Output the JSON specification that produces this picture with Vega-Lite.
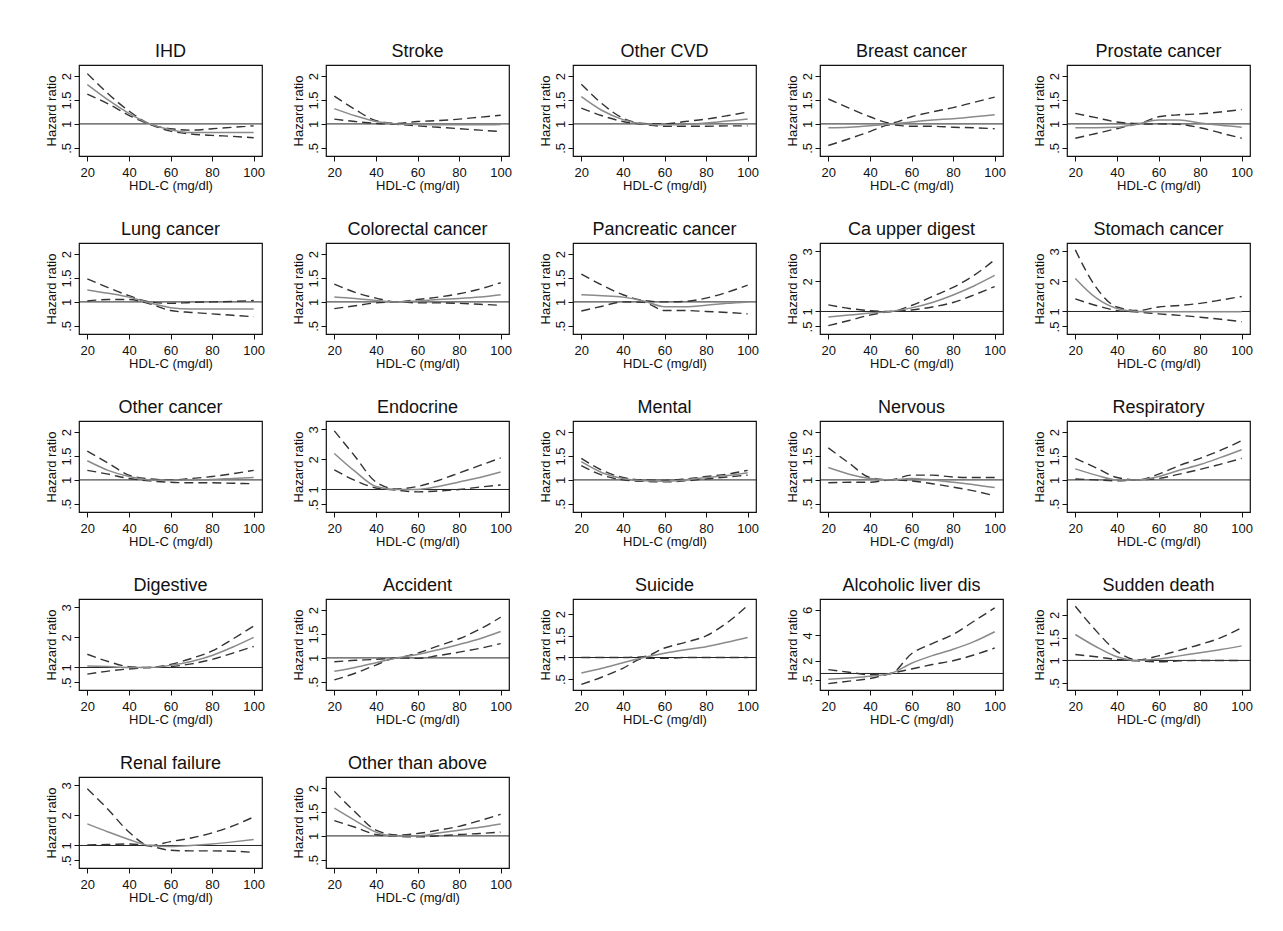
{
"$schema":"https://vega.github.io/schema/vega-lite/v6.json",
"background":"white",
"autosize":{"type":"pad"},
"padding":{"left":44,"top":42,"right":5,"bottom":5},
"config":{
"font":"Liberation Sans",
"view":{"stroke":"#111","strokeWidth":1.2},
"title":{"fontSize":18,"fontWeight":"normal","color":"#111","offset":0,"baseline":"alphabetic"},
"axis":{"grid":false,"domain":false,"tickColor":"#111","tickSize":5,"labelFontSize":13,"labelColor":"#111","titleFontSize":13,"titleFontWeight":"normal","titleColor":"#111","labelOverlap":false},
"axisX":{"labelPadding":5,"titlePadding":0,"tickCount":10},
"axisY":{"labelAngle":270,"labelAlign":"center","labelBaseline":"alphabetic","labelPadding":4,"titlePadding":2,"tickCount":20,"format":"~g","labelExpr":"datum.value == 0.5 ? '.5' : datum.label"}
},
"datasets":{"d":[
{"p":"IHD","x":20,"lo":1.62,"est":1.82,"hi":2.05},{"p":"IHD","x":30,"lo":1.42,"est":1.5,"hi":1.63},{"p":"IHD","x":40,"lo":1.18,"est":1.22,"hi":1.27},{"p":"IHD","x":50,"lo":0.99,"est":1.0,"hi":1.0},{"p":"IHD","x":60,"lo":0.85,"est":0.88,"hi":0.9},{"p":"IHD","x":70,"lo":0.79,"est":0.82,"hi":0.87},{"p":"IHD","x":80,"lo":0.76,"est":0.82,"hi":0.9},{"p":"IHD","x":90,"lo":0.74,"est":0.82,"hi":0.93},{"p":"IHD","x":100,"lo":0.71,"est":0.82,"hi":0.96},
{"p":"Stroke","x":20,"lo":1.1,"est":1.32,"hi":1.58},{"p":"Stroke","x":30,"lo":1.05,"est":1.17,"hi":1.3},{"p":"Stroke","x":40,"lo":1.01,"est":1.05,"hi":1.07},{"p":"Stroke","x":50,"lo":0.99,"est":1.0,"hi":1.01},{"p":"Stroke","x":60,"lo":0.96,"est":0.99,"hi":1.05},{"p":"Stroke","x":70,"lo":0.93,"est":0.98,"hi":1.07},{"p":"Stroke","x":80,"lo":0.9,"est":0.98,"hi":1.1},{"p":"Stroke","x":90,"lo":0.87,"est":0.98,"hi":1.14},{"p":"Stroke","x":100,"lo":0.84,"est":0.99,"hi":1.18},
{"p":"Other CVD","x":20,"lo":1.33,"est":1.57,"hi":1.83},{"p":"Other CVD","x":30,"lo":1.17,"est":1.28,"hi":1.42},{"p":"Other CVD","x":40,"lo":1.05,"est":1.09,"hi":1.12},{"p":"Other CVD","x":50,"lo":0.99,"est":1.0,"hi":1.01},{"p":"Other CVD","x":60,"lo":0.95,"est":0.98,"hi":1.0},{"p":"Other CVD","x":70,"lo":0.95,"est":0.99,"hi":1.05},{"p":"Other CVD","x":80,"lo":0.95,"est":1.02,"hi":1.1},{"p":"Other CVD","x":90,"lo":0.96,"est":1.06,"hi":1.17},{"p":"Other CVD","x":100,"lo":0.96,"est":1.1,"hi":1.25},
{"p":"Breast cancer","x":20,"lo":0.55,"est":0.92,"hi":1.52},{"p":"Breast cancer","x":30,"lo":0.69,"est":0.93,"hi":1.33},{"p":"Breast cancer","x":40,"lo":0.84,"est":0.96,"hi":1.15},{"p":"Breast cancer","x":50,"lo":0.98,"est":1.0,"hi":1.02},{"p":"Breast cancer","x":60,"lo":0.95,"est":1.04,"hi":1.15},{"p":"Breast cancer","x":70,"lo":0.95,"est":1.08,"hi":1.25},{"p":"Breast cancer","x":80,"lo":0.93,"est":1.11,"hi":1.34},{"p":"Breast cancer","x":90,"lo":0.92,"est":1.15,"hi":1.45},{"p":"Breast cancer","x":100,"lo":0.9,"est":1.19,"hi":1.56},
{"p":"Prostate cancer","x":20,"lo":0.7,"est":0.92,"hi":1.22},{"p":"Prostate cancer","x":30,"lo":0.8,"est":0.92,"hi":1.13},{"p":"Prostate cancer","x":40,"lo":0.9,"est":0.93,"hi":1.04},{"p":"Prostate cancer","x":50,"lo":0.99,"est":1.0,"hi":1.01},{"p":"Prostate cancer","x":60,"lo":1.0,"est":1.08,"hi":1.15},{"p":"Prostate cancer","x":70,"lo":0.99,"est":1.08,"hi":1.19},{"p":"Prostate cancer","x":80,"lo":0.92,"est":1.02,"hi":1.21},{"p":"Prostate cancer","x":90,"lo":0.81,"est":0.97,"hi":1.25},{"p":"Prostate cancer","x":100,"lo":0.7,"est":0.93,"hi":1.3},
{"p":"Lung cancer","x":20,"lo":1.02,"est":1.25,"hi":1.48},{"p":"Lung cancer","x":30,"lo":1.05,"est":1.18,"hi":1.3},{"p":"Lung cancer","x":40,"lo":1.05,"est":1.1,"hi":1.13},{"p":"Lung cancer","x":50,"lo":0.96,"est":0.98,"hi":1.0},{"p":"Lung cancer","x":60,"lo":0.82,"est":0.88,"hi":0.97},{"p":"Lung cancer","x":70,"lo":0.78,"est":0.85,"hi":0.99},{"p":"Lung cancer","x":80,"lo":0.75,"est":0.85,"hi":1.0},{"p":"Lung cancer","x":90,"lo":0.72,"est":0.85,"hi":1.01},{"p":"Lung cancer","x":100,"lo":0.69,"est":0.85,"hi":1.03},
{"p":"Colorectal cancer","x":20,"lo":0.86,"est":1.1,"hi":1.37},{"p":"Colorectal cancer","x":30,"lo":0.92,"est":1.07,"hi":1.2},{"p":"Colorectal cancer","x":40,"lo":0.98,"est":1.03,"hi":1.08},{"p":"Colorectal cancer","x":50,"lo":1.0,"est":1.0,"hi":1.0},{"p":"Colorectal cancer","x":60,"lo":0.98,"est":1.02,"hi":1.05},{"p":"Colorectal cancer","x":70,"lo":0.98,"est":1.05,"hi":1.1},{"p":"Colorectal cancer","x":80,"lo":0.97,"est":1.07,"hi":1.17},{"p":"Colorectal cancer","x":90,"lo":0.95,"est":1.1,"hi":1.27},{"p":"Colorectal cancer","x":100,"lo":0.93,"est":1.15,"hi":1.4},
{"p":"Pancreatic cancer","x":20,"lo":0.81,"est":1.15,"hi":1.58},{"p":"Pancreatic cancer","x":30,"lo":0.91,"est":1.13,"hi":1.35},{"p":"Pancreatic cancer","x":40,"lo":1.0,"est":1.1,"hi":1.15},{"p":"Pancreatic cancer","x":50,"lo":0.99,"est":1.02,"hi":1.03},{"p":"Pancreatic cancer","x":60,"lo":0.82,"est":0.9,"hi":1.0},{"p":"Pancreatic cancer","x":70,"lo":0.82,"est":0.9,"hi":1.01},{"p":"Pancreatic cancer","x":80,"lo":0.8,"est":0.93,"hi":1.08},{"p":"Pancreatic cancer","x":90,"lo":0.78,"est":0.97,"hi":1.2},{"p":"Pancreatic cancer","x":100,"lo":0.75,"est":1.0,"hi":1.35},
{"p":"Ca upper digest","x":20,"lo":0.53,"est":0.82,"hi":1.22},{"p":"Ca upper digest","x":30,"lo":0.7,"est":0.88,"hi":1.1},{"p":"Ca upper digest","x":40,"lo":0.88,"est":0.95,"hi":1.03},{"p":"Ca upper digest","x":50,"lo":1.0,"est":1.0,"hi":1.0},{"p":"Ca upper digest","x":60,"lo":1.05,"est":1.12,"hi":1.2},{"p":"Ca upper digest","x":70,"lo":1.15,"est":1.3,"hi":1.5},{"p":"Ca upper digest","x":80,"lo":1.3,"est":1.55,"hi":1.8},{"p":"Ca upper digest","x":90,"lo":1.55,"est":1.85,"hi":2.2},{"p":"Ca upper digest","x":100,"lo":1.83,"est":2.2,"hi":2.72},
{"p":"Stomach cancer","x":20,"lo":1.42,"est":2.1,"hi":3.05},{"p":"Stomach cancer","x":30,"lo":1.2,"est":1.45,"hi":1.8},{"p":"Stomach cancer","x":40,"lo":1.03,"est":1.1,"hi":1.15},{"p":"Stomach cancer","x":50,"lo":0.98,"est":1.0,"hi":1.03},{"p":"Stomach cancer","x":60,"lo":0.92,"est":0.99,"hi":1.15},{"p":"Stomach cancer","x":70,"lo":0.87,"est":0.99,"hi":1.2},{"p":"Stomach cancer","x":80,"lo":0.81,"est":0.99,"hi":1.27},{"p":"Stomach cancer","x":90,"lo":0.74,"est":0.99,"hi":1.38},{"p":"Stomach cancer","x":100,"lo":0.66,"est":0.99,"hi":1.5},
{"p":"Other cancer","x":20,"lo":1.2,"est":1.4,"hi":1.6},{"p":"Other cancer","x":30,"lo":1.12,"est":1.2,"hi":1.35},{"p":"Other cancer","x":40,"lo":1.03,"est":1.07,"hi":1.1},{"p":"Other cancer","x":50,"lo":0.98,"est":1.0,"hi":1.02},{"p":"Other cancer","x":60,"lo":0.95,"est":0.99,"hi":1.0},{"p":"Other cancer","x":70,"lo":0.94,"est":1.0,"hi":1.03},{"p":"Other cancer","x":80,"lo":0.94,"est":1.01,"hi":1.07},{"p":"Other cancer","x":90,"lo":0.93,"est":1.03,"hi":1.13},{"p":"Other cancer","x":100,"lo":0.92,"est":1.05,"hi":1.2},
{"p":"Endocrine","x":20,"lo":1.65,"est":2.2,"hi":2.95},{"p":"Endocrine","x":30,"lo":1.3,"est":1.6,"hi":2.1},{"p":"Endocrine","x":40,"lo":1.05,"est":1.1,"hi":1.25},{"p":"Endocrine","x":50,"lo":0.98,"est":1.0,"hi":1.02},{"p":"Endocrine","x":60,"lo":0.92,"est":1.0,"hi":1.1},{"p":"Endocrine","x":70,"lo":0.95,"est":1.1,"hi":1.3},{"p":"Endocrine","x":80,"lo":1.0,"est":1.25,"hi":1.55},{"p":"Endocrine","x":90,"lo":1.08,"est":1.4,"hi":1.8},{"p":"Endocrine","x":100,"lo":1.15,"est":1.58,"hi":2.05},
{"p":"Mental","x":20,"lo":1.3,"est":1.38,"hi":1.45},{"p":"Mental","x":30,"lo":1.1,"est":1.15,"hi":1.2},{"p":"Mental","x":40,"lo":1.0,"est":1.03,"hi":1.05},{"p":"Mental","x":50,"lo":0.97,"est":0.98,"hi":1.0},{"p":"Mental","x":60,"lo":0.96,"est":0.97,"hi":0.99},{"p":"Mental","x":70,"lo":0.98,"est":1.0,"hi":1.02},{"p":"Mental","x":80,"lo":1.02,"est":1.05,"hi":1.07},{"p":"Mental","x":90,"lo":1.06,"est":1.09,"hi":1.12},{"p":"Mental","x":100,"lo":1.1,"est":1.15,"hi":1.2},
{"p":"Nervous","x":20,"lo":0.94,"est":1.26,"hi":1.67},{"p":"Nervous","x":30,"lo":0.95,"est":1.12,"hi":1.35},{"p":"Nervous","x":40,"lo":0.95,"est":1.03,"hi":1.05},{"p":"Nervous","x":50,"lo":1.0,"est":1.0,"hi":1.0},{"p":"Nervous","x":60,"lo":0.98,"est":1.03,"hi":1.1},{"p":"Nervous","x":70,"lo":0.92,"est":1.0,"hi":1.1},{"p":"Nervous","x":80,"lo":0.85,"est":0.95,"hi":1.06},{"p":"Nervous","x":90,"lo":0.77,"est":0.9,"hi":1.05},{"p":"Nervous","x":100,"lo":0.67,"est":0.84,"hi":1.05},
{"p":"Respiratory","x":20,"lo":1.02,"est":1.23,"hi":1.45},{"p":"Respiratory","x":30,"lo":1.0,"est":1.1,"hi":1.25},{"p":"Respiratory","x":40,"lo":0.98,"est":1.0,"hi":1.05},{"p":"Respiratory","x":50,"lo":1.0,"est":1.0,"hi":1.0},{"p":"Respiratory","x":60,"lo":1.03,"est":1.07,"hi":1.12},{"p":"Respiratory","x":70,"lo":1.12,"est":1.2,"hi":1.3},{"p":"Respiratory","x":80,"lo":1.22,"est":1.32,"hi":1.45},{"p":"Respiratory","x":90,"lo":1.33,"est":1.47,"hi":1.62},{"p":"Respiratory","x":100,"lo":1.45,"est":1.63,"hi":1.82},
{"p":"Digestive","x":20,"lo":0.78,"est":1.05,"hi":1.44},{"p":"Digestive","x":30,"lo":0.88,"est":1.03,"hi":1.2},{"p":"Digestive","x":40,"lo":0.95,"est":1.0,"hi":1.03},{"p":"Digestive","x":50,"lo":1.0,"est":1.0,"hi":1.0},{"p":"Digestive","x":60,"lo":1.03,"est":1.07,"hi":1.1},{"p":"Digestive","x":70,"lo":1.12,"est":1.2,"hi":1.3},{"p":"Digestive","x":80,"lo":1.27,"est":1.4,"hi":1.55},{"p":"Digestive","x":90,"lo":1.48,"est":1.68,"hi":1.95},{"p":"Digestive","x":100,"lo":1.7,"est":2.0,"hi":2.38},
{"p":"Accident","x":20,"lo":0.54,"est":0.72,"hi":0.92},{"p":"Accident","x":30,"lo":0.68,"est":0.8,"hi":0.95},{"p":"Accident","x":40,"lo":0.85,"est":0.9,"hi":0.97},{"p":"Accident","x":50,"lo":1.0,"est":1.0,"hi":1.0},{"p":"Accident","x":60,"lo":0.99,"est":1.07,"hi":1.1},{"p":"Accident","x":70,"lo":1.05,"est":1.17,"hi":1.25},{"p":"Accident","x":80,"lo":1.12,"est":1.28,"hi":1.4},{"p":"Accident","x":90,"lo":1.2,"est":1.4,"hi":1.6},{"p":"Accident","x":100,"lo":1.3,"est":1.55,"hi":1.85},
{"p":"Suicide","x":20,"lo":0.38,"est":0.64,"hi":1.0},{"p":"Suicide","x":30,"lo":0.55,"est":0.75,"hi":1.0},{"p":"Suicide","x":40,"lo":0.75,"est":0.88,"hi":1.0},{"p":"Suicide","x":50,"lo":0.98,"est":1.0,"hi":1.02},{"p":"Suicide","x":60,"lo":0.98,"est":1.1,"hi":1.22},{"p":"Suicide","x":70,"lo":1.0,"est":1.18,"hi":1.35},{"p":"Suicide","x":80,"lo":1.0,"est":1.25,"hi":1.5},{"p":"Suicide","x":90,"lo":1.0,"est":1.35,"hi":1.8},{"p":"Suicide","x":100,"lo":1.0,"est":1.46,"hi":2.2},
{"p":"Alcoholic liver dis","x":20,"lo":0.2,"est":0.55,"hi":1.3},{"p":"Alcoholic liver dis","x":30,"lo":0.4,"est":0.65,"hi":1.1},{"p":"Alcoholic liver dis","x":40,"lo":0.6,"est":0.78,"hi":0.9},{"p":"Alcoholic liver dis","x":50,"lo":1.0,"est":1.0,"hi":1.0},{"p":"Alcoholic liver dis","x":60,"lo":1.35,"est":1.8,"hi":2.55},{"p":"Alcoholic liver dis","x":70,"lo":1.7,"est":2.4,"hi":3.35},{"p":"Alcoholic liver dis","x":80,"lo":2.0,"est":2.9,"hi":4.07},{"p":"Alcoholic liver dis","x":90,"lo":2.45,"est":3.5,"hi":5.1},{"p":"Alcoholic liver dis","x":100,"lo":3.0,"est":4.28,"hi":6.15},
{"p":"Sudden death","x":20,"lo":1.13,"est":1.57,"hi":2.19},{"p":"Sudden death","x":30,"lo":1.08,"est":1.3,"hi":1.65},{"p":"Sudden death","x":40,"lo":1.02,"est":1.08,"hi":1.2},{"p":"Sudden death","x":50,"lo":0.99,"est":1.0,"hi":1.01},{"p":"Sudden death","x":60,"lo":0.97,"est":1.03,"hi":1.1},{"p":"Sudden death","x":70,"lo":0.99,"est":1.1,"hi":1.22},{"p":"Sudden death","x":80,"lo":1.0,"est":1.17,"hi":1.35},{"p":"Sudden death","x":90,"lo":1.0,"est":1.24,"hi":1.5},{"p":"Sudden death","x":100,"lo":1.0,"est":1.32,"hi":1.72},
{"p":"Renal failure","x":20,"lo":1.02,"est":1.72,"hi":2.89},{"p":"Renal failure","x":30,"lo":1.03,"est":1.45,"hi":2.2},{"p":"Renal failure","x":40,"lo":1.05,"est":1.2,"hi":1.45},{"p":"Renal failure","x":50,"lo":0.98,"est":1.0,"hi":1.0},{"p":"Renal failure","x":60,"lo":0.84,"est":0.97,"hi":1.13},{"p":"Renal failure","x":70,"lo":0.82,"est":1.0,"hi":1.25},{"p":"Renal failure","x":80,"lo":0.82,"est":1.05,"hi":1.42},{"p":"Renal failure","x":90,"lo":0.81,"est":1.12,"hi":1.65},{"p":"Renal failure","x":100,"lo":0.77,"est":1.2,"hi":1.95},
{"p":"Other than above","x":20,"lo":1.32,"est":1.58,"hi":1.93},{"p":"Other than above","x":30,"lo":1.18,"est":1.32,"hi":1.5},{"p":"Other than above","x":40,"lo":1.03,"est":1.08,"hi":1.12},{"p":"Other than above","x":50,"lo":0.99,"est":1.0,"hi":1.02},{"p":"Other than above","x":60,"lo":0.98,"est":1.0,"hi":1.05},{"p":"Other than above","x":70,"lo":1.0,"est":1.06,"hi":1.12},{"p":"Other than above","x":80,"lo":1.03,"est":1.12,"hi":1.2},{"p":"Other than above","x":90,"lo":1.05,"est":1.18,"hi":1.32},{"p":"Other than above","x":100,"lo":1.08,"est":1.25,"hi":1.45}
]},
"data":{"name":"d"},
"columns":5,
"bounds":"flush",
"spacing":{"row":87,"column":64},
"concat":[
{"title":"IHD","width":183,"height":91,"layer":[
{"data":{"values":[{"ref":1}]},"mark":{"type":"rule","color":"#222","strokeWidth":1},"encoding":{"y":{"field":"ref","type":"quantitative","scale":{"domain":[0.33,2.23],"nice":false,"zero":false},"axis":{"values":[0.5,1,1.5,2],"tickCount":20,"title":"Hazard ratio"}}}},
{"transform":[{"filter":"datum.p==='IHD'"}],"mark":{"type":"line","interpolate":"monotone","color":"#333","strokeWidth":1.4,"strokeDash":[9,5]},"encoding":{"x":{"field":"x","type":"quantitative","scale":{"domain":[16,104],"nice":false,"zero":false},"axis":{"values":[20,40,60,80,100],"title":"HDL-C (mg/dl)"}},"y":{"field":"hi","type":"quantitative","scale":{"domain":[0.33,2.23],"nice":false,"zero":false}}}},
{"transform":[{"filter":"datum.p==='IHD'"}],"mark":{"type":"line","interpolate":"monotone","color":"#333","strokeWidth":1.4,"strokeDash":[9,5]},"encoding":{"x":{"field":"x","type":"quantitative"},"y":{"field":"lo","type":"quantitative"}}},
{"transform":[{"filter":"datum.p==='IHD'"}],"mark":{"type":"line","interpolate":"monotone","color":"#8a8a8a","strokeWidth":1.5},"encoding":{"x":{"field":"x","type":"quantitative"},"y":{"field":"est","type":"quantitative"}}}
]},
{"title":"Stroke","width":183,"height":91,"layer":[
{"data":{"values":[{"ref":1}]},"mark":{"type":"rule","color":"#222","strokeWidth":1},"encoding":{"y":{"field":"ref","type":"quantitative","scale":{"domain":[0.33,2.23],"nice":false,"zero":false},"axis":{"values":[0.5,1,1.5,2],"tickCount":20,"title":"Hazard ratio"}}}},
{"transform":[{"filter":"datum.p==='Stroke'"}],"mark":{"type":"line","interpolate":"monotone","color":"#333","strokeWidth":1.4,"strokeDash":[9,5]},"encoding":{"x":{"field":"x","type":"quantitative","scale":{"domain":[16,104],"nice":false,"zero":false},"axis":{"values":[20,40,60,80,100],"title":"HDL-C (mg/dl)"}},"y":{"field":"hi","type":"quantitative","scale":{"domain":[0.33,2.23],"nice":false,"zero":false}}}},
{"transform":[{"filter":"datum.p==='Stroke'"}],"mark":{"type":"line","interpolate":"monotone","color":"#333","strokeWidth":1.4,"strokeDash":[9,5]},"encoding":{"x":{"field":"x","type":"quantitative"},"y":{"field":"lo","type":"quantitative"}}},
{"transform":[{"filter":"datum.p==='Stroke'"}],"mark":{"type":"line","interpolate":"monotone","color":"#8a8a8a","strokeWidth":1.5},"encoding":{"x":{"field":"x","type":"quantitative"},"y":{"field":"est","type":"quantitative"}}}
]},
{"title":"Other CVD","width":183,"height":91,"layer":[
{"data":{"values":[{"ref":1}]},"mark":{"type":"rule","color":"#222","strokeWidth":1},"encoding":{"y":{"field":"ref","type":"quantitative","scale":{"domain":[0.33,2.23],"nice":false,"zero":false},"axis":{"values":[0.5,1,1.5,2],"tickCount":20,"title":"Hazard ratio"}}}},
{"transform":[{"filter":"datum.p==='Other CVD'"}],"mark":{"type":"line","interpolate":"monotone","color":"#333","strokeWidth":1.4,"strokeDash":[9,5]},"encoding":{"x":{"field":"x","type":"quantitative","scale":{"domain":[16,104],"nice":false,"zero":false},"axis":{"values":[20,40,60,80,100],"title":"HDL-C (mg/dl)"}},"y":{"field":"hi","type":"quantitative","scale":{"domain":[0.33,2.23],"nice":false,"zero":false}}}},
{"transform":[{"filter":"datum.p==='Other CVD'"}],"mark":{"type":"line","interpolate":"monotone","color":"#333","strokeWidth":1.4,"strokeDash":[9,5]},"encoding":{"x":{"field":"x","type":"quantitative"},"y":{"field":"lo","type":"quantitative"}}},
{"transform":[{"filter":"datum.p==='Other CVD'"}],"mark":{"type":"line","interpolate":"monotone","color":"#8a8a8a","strokeWidth":1.5},"encoding":{"x":{"field":"x","type":"quantitative"},"y":{"field":"est","type":"quantitative"}}}
]},
{"title":"Breast cancer","width":183,"height":91,"layer":[
{"data":{"values":[{"ref":1}]},"mark":{"type":"rule","color":"#222","strokeWidth":1},"encoding":{"y":{"field":"ref","type":"quantitative","scale":{"domain":[0.33,2.23],"nice":false,"zero":false},"axis":{"values":[0.5,1,1.5,2],"tickCount":20,"title":"Hazard ratio"}}}},
{"transform":[{"filter":"datum.p==='Breast cancer'"}],"mark":{"type":"line","interpolate":"monotone","color":"#333","strokeWidth":1.4,"strokeDash":[9,5]},"encoding":{"x":{"field":"x","type":"quantitative","scale":{"domain":[16,104],"nice":false,"zero":false},"axis":{"values":[20,40,60,80,100],"title":"HDL-C (mg/dl)"}},"y":{"field":"hi","type":"quantitative","scale":{"domain":[0.33,2.23],"nice":false,"zero":false}}}},
{"transform":[{"filter":"datum.p==='Breast cancer'"}],"mark":{"type":"line","interpolate":"monotone","color":"#333","strokeWidth":1.4,"strokeDash":[9,5]},"encoding":{"x":{"field":"x","type":"quantitative"},"y":{"field":"lo","type":"quantitative"}}},
{"transform":[{"filter":"datum.p==='Breast cancer'"}],"mark":{"type":"line","interpolate":"monotone","color":"#8a8a8a","strokeWidth":1.5},"encoding":{"x":{"field":"x","type":"quantitative"},"y":{"field":"est","type":"quantitative"}}}
]},
{"title":"Prostate cancer","width":183,"height":91,"layer":[
{"data":{"values":[{"ref":1}]},"mark":{"type":"rule","color":"#222","strokeWidth":1},"encoding":{"y":{"field":"ref","type":"quantitative","scale":{"domain":[0.33,2.23],"nice":false,"zero":false},"axis":{"values":[0.5,1,1.5,2],"tickCount":20,"title":"Hazard ratio"}}}},
{"transform":[{"filter":"datum.p==='Prostate cancer'"}],"mark":{"type":"line","interpolate":"monotone","color":"#333","strokeWidth":1.4,"strokeDash":[9,5]},"encoding":{"x":{"field":"x","type":"quantitative","scale":{"domain":[16,104],"nice":false,"zero":false},"axis":{"values":[20,40,60,80,100],"title":"HDL-C (mg/dl)"}},"y":{"field":"hi","type":"quantitative","scale":{"domain":[0.33,2.23],"nice":false,"zero":false}}}},
{"transform":[{"filter":"datum.p==='Prostate cancer'"}],"mark":{"type":"line","interpolate":"monotone","color":"#333","strokeWidth":1.4,"strokeDash":[9,5]},"encoding":{"x":{"field":"x","type":"quantitative"},"y":{"field":"lo","type":"quantitative"}}},
{"transform":[{"filter":"datum.p==='Prostate cancer'"}],"mark":{"type":"line","interpolate":"monotone","color":"#8a8a8a","strokeWidth":1.5},"encoding":{"x":{"field":"x","type":"quantitative"},"y":{"field":"est","type":"quantitative"}}}
]},
{"title":"Lung cancer","width":183,"height":91,"layer":[
{"data":{"values":[{"ref":1}]},"mark":{"type":"rule","color":"#222","strokeWidth":1},"encoding":{"y":{"field":"ref","type":"quantitative","scale":{"domain":[0.33,2.23],"nice":false,"zero":false},"axis":{"values":[0.5,1,1.5,2],"tickCount":20,"title":"Hazard ratio"}}}},
{"transform":[{"filter":"datum.p==='Lung cancer'"}],"mark":{"type":"line","interpolate":"monotone","color":"#333","strokeWidth":1.4,"strokeDash":[9,5]},"encoding":{"x":{"field":"x","type":"quantitative","scale":{"domain":[16,104],"nice":false,"zero":false},"axis":{"values":[20,40,60,80,100],"title":"HDL-C (mg/dl)"}},"y":{"field":"hi","type":"quantitative","scale":{"domain":[0.33,2.23],"nice":false,"zero":false}}}},
{"transform":[{"filter":"datum.p==='Lung cancer'"}],"mark":{"type":"line","interpolate":"monotone","color":"#333","strokeWidth":1.4,"strokeDash":[9,5]},"encoding":{"x":{"field":"x","type":"quantitative"},"y":{"field":"lo","type":"quantitative"}}},
{"transform":[{"filter":"datum.p==='Lung cancer'"}],"mark":{"type":"line","interpolate":"monotone","color":"#8a8a8a","strokeWidth":1.5},"encoding":{"x":{"field":"x","type":"quantitative"},"y":{"field":"est","type":"quantitative"}}}
]},
{"title":"Colorectal cancer","width":183,"height":91,"layer":[
{"data":{"values":[{"ref":1}]},"mark":{"type":"rule","color":"#222","strokeWidth":1},"encoding":{"y":{"field":"ref","type":"quantitative","scale":{"domain":[0.33,2.23],"nice":false,"zero":false},"axis":{"values":[0.5,1,1.5,2],"tickCount":20,"title":"Hazard ratio"}}}},
{"transform":[{"filter":"datum.p==='Colorectal cancer'"}],"mark":{"type":"line","interpolate":"monotone","color":"#333","strokeWidth":1.4,"strokeDash":[9,5]},"encoding":{"x":{"field":"x","type":"quantitative","scale":{"domain":[16,104],"nice":false,"zero":false},"axis":{"values":[20,40,60,80,100],"title":"HDL-C (mg/dl)"}},"y":{"field":"hi","type":"quantitative","scale":{"domain":[0.33,2.23],"nice":false,"zero":false}}}},
{"transform":[{"filter":"datum.p==='Colorectal cancer'"}],"mark":{"type":"line","interpolate":"monotone","color":"#333","strokeWidth":1.4,"strokeDash":[9,5]},"encoding":{"x":{"field":"x","type":"quantitative"},"y":{"field":"lo","type":"quantitative"}}},
{"transform":[{"filter":"datum.p==='Colorectal cancer'"}],"mark":{"type":"line","interpolate":"monotone","color":"#8a8a8a","strokeWidth":1.5},"encoding":{"x":{"field":"x","type":"quantitative"},"y":{"field":"est","type":"quantitative"}}}
]},
{"title":"Pancreatic cancer","width":183,"height":91,"layer":[
{"data":{"values":[{"ref":1}]},"mark":{"type":"rule","color":"#222","strokeWidth":1},"encoding":{"y":{"field":"ref","type":"quantitative","scale":{"domain":[0.33,2.23],"nice":false,"zero":false},"axis":{"values":[0.5,1,1.5,2],"tickCount":20,"title":"Hazard ratio"}}}},
{"transform":[{"filter":"datum.p==='Pancreatic cancer'"}],"mark":{"type":"line","interpolate":"monotone","color":"#333","strokeWidth":1.4,"strokeDash":[9,5]},"encoding":{"x":{"field":"x","type":"quantitative","scale":{"domain":[16,104],"nice":false,"zero":false},"axis":{"values":[20,40,60,80,100],"title":"HDL-C (mg/dl)"}},"y":{"field":"hi","type":"quantitative","scale":{"domain":[0.33,2.23],"nice":false,"zero":false}}}},
{"transform":[{"filter":"datum.p==='Pancreatic cancer'"}],"mark":{"type":"line","interpolate":"monotone","color":"#333","strokeWidth":1.4,"strokeDash":[9,5]},"encoding":{"x":{"field":"x","type":"quantitative"},"y":{"field":"lo","type":"quantitative"}}},
{"transform":[{"filter":"datum.p==='Pancreatic cancer'"}],"mark":{"type":"line","interpolate":"monotone","color":"#8a8a8a","strokeWidth":1.5},"encoding":{"x":{"field":"x","type":"quantitative"},"y":{"field":"est","type":"quantitative"}}}
]},
{"title":"Ca upper digest","width":183,"height":91,"layer":[
{"data":{"values":[{"ref":1}]},"mark":{"type":"rule","color":"#222","strokeWidth":1},"encoding":{"y":{"field":"ref","type":"quantitative","scale":{"domain":[0.25,3.28],"nice":false,"zero":false},"axis":{"values":[0.5,1,2,3],"tickCount":20,"title":"Hazard ratio"}}}},
{"transform":[{"filter":"datum.p==='Ca upper digest'"}],"mark":{"type":"line","interpolate":"monotone","color":"#333","strokeWidth":1.4,"strokeDash":[9,5]},"encoding":{"x":{"field":"x","type":"quantitative","scale":{"domain":[16,104],"nice":false,"zero":false},"axis":{"values":[20,40,60,80,100],"title":"HDL-C (mg/dl)"}},"y":{"field":"hi","type":"quantitative","scale":{"domain":[0.25,3.28],"nice":false,"zero":false}}}},
{"transform":[{"filter":"datum.p==='Ca upper digest'"}],"mark":{"type":"line","interpolate":"monotone","color":"#333","strokeWidth":1.4,"strokeDash":[9,5]},"encoding":{"x":{"field":"x","type":"quantitative"},"y":{"field":"lo","type":"quantitative"}}},
{"transform":[{"filter":"datum.p==='Ca upper digest'"}],"mark":{"type":"line","interpolate":"monotone","color":"#8a8a8a","strokeWidth":1.5},"encoding":{"x":{"field":"x","type":"quantitative"},"y":{"field":"est","type":"quantitative"}}}
]},
{"title":"Stomach cancer","width":183,"height":91,"layer":[
{"data":{"values":[{"ref":1}]},"mark":{"type":"rule","color":"#222","strokeWidth":1},"encoding":{"y":{"field":"ref","type":"quantitative","scale":{"domain":[0.25,3.28],"nice":false,"zero":false},"axis":{"values":[0.5,1,2,3],"tickCount":20,"title":"Hazard ratio"}}}},
{"transform":[{"filter":"datum.p==='Stomach cancer'"}],"mark":{"type":"line","interpolate":"monotone","color":"#333","strokeWidth":1.4,"strokeDash":[9,5]},"encoding":{"x":{"field":"x","type":"quantitative","scale":{"domain":[16,104],"nice":false,"zero":false},"axis":{"values":[20,40,60,80,100],"title":"HDL-C (mg/dl)"}},"y":{"field":"hi","type":"quantitative","scale":{"domain":[0.25,3.28],"nice":false,"zero":false}}}},
{"transform":[{"filter":"datum.p==='Stomach cancer'"}],"mark":{"type":"line","interpolate":"monotone","color":"#333","strokeWidth":1.4,"strokeDash":[9,5]},"encoding":{"x":{"field":"x","type":"quantitative"},"y":{"field":"lo","type":"quantitative"}}},
{"transform":[{"filter":"datum.p==='Stomach cancer'"}],"mark":{"type":"line","interpolate":"monotone","color":"#8a8a8a","strokeWidth":1.5},"encoding":{"x":{"field":"x","type":"quantitative"},"y":{"field":"est","type":"quantitative"}}}
]},
{"title":"Other cancer","width":183,"height":91,"layer":[
{"data":{"values":[{"ref":1}]},"mark":{"type":"rule","color":"#222","strokeWidth":1},"encoding":{"y":{"field":"ref","type":"quantitative","scale":{"domain":[0.33,2.23],"nice":false,"zero":false},"axis":{"values":[0.5,1,1.5,2],"tickCount":20,"title":"Hazard ratio"}}}},
{"transform":[{"filter":"datum.p==='Other cancer'"}],"mark":{"type":"line","interpolate":"monotone","color":"#333","strokeWidth":1.4,"strokeDash":[9,5]},"encoding":{"x":{"field":"x","type":"quantitative","scale":{"domain":[16,104],"nice":false,"zero":false},"axis":{"values":[20,40,60,80,100],"title":"HDL-C (mg/dl)"}},"y":{"field":"hi","type":"quantitative","scale":{"domain":[0.33,2.23],"nice":false,"zero":false}}}},
{"transform":[{"filter":"datum.p==='Other cancer'"}],"mark":{"type":"line","interpolate":"monotone","color":"#333","strokeWidth":1.4,"strokeDash":[9,5]},"encoding":{"x":{"field":"x","type":"quantitative"},"y":{"field":"lo","type":"quantitative"}}},
{"transform":[{"filter":"datum.p==='Other cancer'"}],"mark":{"type":"line","interpolate":"monotone","color":"#8a8a8a","strokeWidth":1.5},"encoding":{"x":{"field":"x","type":"quantitative"},"y":{"field":"est","type":"quantitative"}}}
]},
{"title":"Endocrine","width":183,"height":91,"layer":[
{"data":{"values":[{"ref":1}]},"mark":{"type":"rule","color":"#222","strokeWidth":1},"encoding":{"y":{"field":"ref","type":"quantitative","scale":{"domain":[0.25,3.28],"nice":false,"zero":false},"axis":{"values":[0.5,1,2,3],"tickCount":20,"title":"Hazard ratio"}}}},
{"transform":[{"filter":"datum.p==='Endocrine'"}],"mark":{"type":"line","interpolate":"monotone","color":"#333","strokeWidth":1.4,"strokeDash":[9,5]},"encoding":{"x":{"field":"x","type":"quantitative","scale":{"domain":[16,104],"nice":false,"zero":false},"axis":{"values":[20,40,60,80,100],"title":"HDL-C (mg/dl)"}},"y":{"field":"hi","type":"quantitative","scale":{"domain":[0.25,3.28],"nice":false,"zero":false}}}},
{"transform":[{"filter":"datum.p==='Endocrine'"}],"mark":{"type":"line","interpolate":"monotone","color":"#333","strokeWidth":1.4,"strokeDash":[9,5]},"encoding":{"x":{"field":"x","type":"quantitative"},"y":{"field":"lo","type":"quantitative"}}},
{"transform":[{"filter":"datum.p==='Endocrine'"}],"mark":{"type":"line","interpolate":"monotone","color":"#8a8a8a","strokeWidth":1.5},"encoding":{"x":{"field":"x","type":"quantitative"},"y":{"field":"est","type":"quantitative"}}}
]},
{"title":"Mental","width":183,"height":91,"layer":[
{"data":{"values":[{"ref":1}]},"mark":{"type":"rule","color":"#222","strokeWidth":1},"encoding":{"y":{"field":"ref","type":"quantitative","scale":{"domain":[0.33,2.23],"nice":false,"zero":false},"axis":{"values":[0.5,1,1.5,2],"tickCount":20,"title":"Hazard ratio"}}}},
{"transform":[{"filter":"datum.p==='Mental'"}],"mark":{"type":"line","interpolate":"monotone","color":"#333","strokeWidth":1.4,"strokeDash":[9,5]},"encoding":{"x":{"field":"x","type":"quantitative","scale":{"domain":[16,104],"nice":false,"zero":false},"axis":{"values":[20,40,60,80,100],"title":"HDL-C (mg/dl)"}},"y":{"field":"hi","type":"quantitative","scale":{"domain":[0.33,2.23],"nice":false,"zero":false}}}},
{"transform":[{"filter":"datum.p==='Mental'"}],"mark":{"type":"line","interpolate":"monotone","color":"#333","strokeWidth":1.4,"strokeDash":[9,5]},"encoding":{"x":{"field":"x","type":"quantitative"},"y":{"field":"lo","type":"quantitative"}}},
{"transform":[{"filter":"datum.p==='Mental'"}],"mark":{"type":"line","interpolate":"monotone","color":"#8a8a8a","strokeWidth":1.5},"encoding":{"x":{"field":"x","type":"quantitative"},"y":{"field":"est","type":"quantitative"}}}
]},
{"title":"Nervous","width":183,"height":91,"layer":[
{"data":{"values":[{"ref":1}]},"mark":{"type":"rule","color":"#222","strokeWidth":1},"encoding":{"y":{"field":"ref","type":"quantitative","scale":{"domain":[0.33,2.23],"nice":false,"zero":false},"axis":{"values":[0.5,1,1.5,2],"tickCount":20,"title":"Hazard ratio"}}}},
{"transform":[{"filter":"datum.p==='Nervous'"}],"mark":{"type":"line","interpolate":"monotone","color":"#333","strokeWidth":1.4,"strokeDash":[9,5]},"encoding":{"x":{"field":"x","type":"quantitative","scale":{"domain":[16,104],"nice":false,"zero":false},"axis":{"values":[20,40,60,80,100],"title":"HDL-C (mg/dl)"}},"y":{"field":"hi","type":"quantitative","scale":{"domain":[0.33,2.23],"nice":false,"zero":false}}}},
{"transform":[{"filter":"datum.p==='Nervous'"}],"mark":{"type":"line","interpolate":"monotone","color":"#333","strokeWidth":1.4,"strokeDash":[9,5]},"encoding":{"x":{"field":"x","type":"quantitative"},"y":{"field":"lo","type":"quantitative"}}},
{"transform":[{"filter":"datum.p==='Nervous'"}],"mark":{"type":"line","interpolate":"monotone","color":"#8a8a8a","strokeWidth":1.5},"encoding":{"x":{"field":"x","type":"quantitative"},"y":{"field":"est","type":"quantitative"}}}
]},
{"title":"Respiratory","width":183,"height":91,"layer":[
{"data":{"values":[{"ref":1}]},"mark":{"type":"rule","color":"#222","strokeWidth":1},"encoding":{"y":{"field":"ref","type":"quantitative","scale":{"domain":[0.33,2.23],"nice":false,"zero":false},"axis":{"values":[0.5,1,1.5,2],"tickCount":20,"title":"Hazard ratio"}}}},
{"transform":[{"filter":"datum.p==='Respiratory'"}],"mark":{"type":"line","interpolate":"monotone","color":"#333","strokeWidth":1.4,"strokeDash":[9,5]},"encoding":{"x":{"field":"x","type":"quantitative","scale":{"domain":[16,104],"nice":false,"zero":false},"axis":{"values":[20,40,60,80,100],"title":"HDL-C (mg/dl)"}},"y":{"field":"hi","type":"quantitative","scale":{"domain":[0.33,2.23],"nice":false,"zero":false}}}},
{"transform":[{"filter":"datum.p==='Respiratory'"}],"mark":{"type":"line","interpolate":"monotone","color":"#333","strokeWidth":1.4,"strokeDash":[9,5]},"encoding":{"x":{"field":"x","type":"quantitative"},"y":{"field":"lo","type":"quantitative"}}},
{"transform":[{"filter":"datum.p==='Respiratory'"}],"mark":{"type":"line","interpolate":"monotone","color":"#8a8a8a","strokeWidth":1.5},"encoding":{"x":{"field":"x","type":"quantitative"},"y":{"field":"est","type":"quantitative"}}}
]},
{"title":"Digestive","width":183,"height":91,"layer":[
{"data":{"values":[{"ref":1}]},"mark":{"type":"rule","color":"#222","strokeWidth":1},"encoding":{"y":{"field":"ref","type":"quantitative","scale":{"domain":[0.25,3.28],"nice":false,"zero":false},"axis":{"values":[0.5,1,2,3],"tickCount":20,"title":"Hazard ratio"}}}},
{"transform":[{"filter":"datum.p==='Digestive'"}],"mark":{"type":"line","interpolate":"monotone","color":"#333","strokeWidth":1.4,"strokeDash":[9,5]},"encoding":{"x":{"field":"x","type":"quantitative","scale":{"domain":[16,104],"nice":false,"zero":false},"axis":{"values":[20,40,60,80,100],"title":"HDL-C (mg/dl)"}},"y":{"field":"hi","type":"quantitative","scale":{"domain":[0.25,3.28],"nice":false,"zero":false}}}},
{"transform":[{"filter":"datum.p==='Digestive'"}],"mark":{"type":"line","interpolate":"monotone","color":"#333","strokeWidth":1.4,"strokeDash":[9,5]},"encoding":{"x":{"field":"x","type":"quantitative"},"y":{"field":"lo","type":"quantitative"}}},
{"transform":[{"filter":"datum.p==='Digestive'"}],"mark":{"type":"line","interpolate":"monotone","color":"#8a8a8a","strokeWidth":1.5},"encoding":{"x":{"field":"x","type":"quantitative"},"y":{"field":"est","type":"quantitative"}}}
]},
{"title":"Accident","width":183,"height":91,"layer":[
{"data":{"values":[{"ref":1}]},"mark":{"type":"rule","color":"#222","strokeWidth":1},"encoding":{"y":{"field":"ref","type":"quantitative","scale":{"domain":[0.33,2.23],"nice":false,"zero":false},"axis":{"values":[0.5,1,1.5,2],"tickCount":20,"title":"Hazard ratio"}}}},
{"transform":[{"filter":"datum.p==='Accident'"}],"mark":{"type":"line","interpolate":"monotone","color":"#333","strokeWidth":1.4,"strokeDash":[9,5]},"encoding":{"x":{"field":"x","type":"quantitative","scale":{"domain":[16,104],"nice":false,"zero":false},"axis":{"values":[20,40,60,80,100],"title":"HDL-C (mg/dl)"}},"y":{"field":"hi","type":"quantitative","scale":{"domain":[0.33,2.23],"nice":false,"zero":false}}}},
{"transform":[{"filter":"datum.p==='Accident'"}],"mark":{"type":"line","interpolate":"monotone","color":"#333","strokeWidth":1.4,"strokeDash":[9,5]},"encoding":{"x":{"field":"x","type":"quantitative"},"y":{"field":"lo","type":"quantitative"}}},
{"transform":[{"filter":"datum.p==='Accident'"}],"mark":{"type":"line","interpolate":"monotone","color":"#8a8a8a","strokeWidth":1.5},"encoding":{"x":{"field":"x","type":"quantitative"},"y":{"field":"est","type":"quantitative"}}}
]},
{"title":"Suicide","width":183,"height":91,"layer":[
{"data":{"values":[{"ref":1}]},"mark":{"type":"rule","color":"#222","strokeWidth":1},"encoding":{"y":{"field":"ref","type":"quantitative","scale":{"domain":[0.25,2.35],"nice":false,"zero":false},"axis":{"values":[0.5,1,1.5,2],"tickCount":20,"title":"Hazard ratio"}}}},
{"transform":[{"filter":"datum.p==='Suicide'"}],"mark":{"type":"line","interpolate":"monotone","color":"#333","strokeWidth":1.4,"strokeDash":[9,5]},"encoding":{"x":{"field":"x","type":"quantitative","scale":{"domain":[16,104],"nice":false,"zero":false},"axis":{"values":[20,40,60,80,100],"title":"HDL-C (mg/dl)"}},"y":{"field":"hi","type":"quantitative","scale":{"domain":[0.25,2.35],"nice":false,"zero":false}}}},
{"transform":[{"filter":"datum.p==='Suicide'"}],"mark":{"type":"line","interpolate":"monotone","color":"#333","strokeWidth":1.4,"strokeDash":[9,5]},"encoding":{"x":{"field":"x","type":"quantitative"},"y":{"field":"lo","type":"quantitative"}}},
{"transform":[{"filter":"datum.p==='Suicide'"}],"mark":{"type":"line","interpolate":"monotone","color":"#8a8a8a","strokeWidth":1.5},"encoding":{"x":{"field":"x","type":"quantitative"},"y":{"field":"est","type":"quantitative"}}}
]},
{"title":"Alcoholic liver dis","width":183,"height":91,"layer":[
{"data":{"values":[{"ref":1}]},"mark":{"type":"rule","color":"#222","strokeWidth":1},"encoding":{"y":{"field":"ref","type":"quantitative","scale":{"domain":[-0.3,6.85],"nice":false,"zero":false},"axis":{"values":[0.5,2,4,6],"tickCount":20,"title":"Hazard ratio"}}}},
{"transform":[{"filter":"datum.p==='Alcoholic liver dis'"}],"mark":{"type":"line","interpolate":"monotone","color":"#333","strokeWidth":1.4,"strokeDash":[9,5]},"encoding":{"x":{"field":"x","type":"quantitative","scale":{"domain":[16,104],"nice":false,"zero":false},"axis":{"values":[20,40,60,80,100],"title":"HDL-C (mg/dl)"}},"y":{"field":"hi","type":"quantitative","scale":{"domain":[-0.3,6.85],"nice":false,"zero":false}}}},
{"transform":[{"filter":"datum.p==='Alcoholic liver dis'"}],"mark":{"type":"line","interpolate":"monotone","color":"#333","strokeWidth":1.4,"strokeDash":[9,5]},"encoding":{"x":{"field":"x","type":"quantitative"},"y":{"field":"lo","type":"quantitative"}}},
{"transform":[{"filter":"datum.p==='Alcoholic liver dis'"}],"mark":{"type":"line","interpolate":"monotone","color":"#8a8a8a","strokeWidth":1.5},"encoding":{"x":{"field":"x","type":"quantitative"},"y":{"field":"est","type":"quantitative"}}}
]},
{"title":"Sudden death","width":183,"height":91,"layer":[
{"data":{"values":[{"ref":1}]},"mark":{"type":"rule","color":"#222","strokeWidth":1},"encoding":{"y":{"field":"ref","type":"quantitative","scale":{"domain":[0.35,2.35],"nice":false,"zero":false},"axis":{"values":[0.5,1,1.5,2],"tickCount":20,"title":"Hazard ratio"}}}},
{"transform":[{"filter":"datum.p==='Sudden death'"}],"mark":{"type":"line","interpolate":"monotone","color":"#333","strokeWidth":1.4,"strokeDash":[9,5]},"encoding":{"x":{"field":"x","type":"quantitative","scale":{"domain":[16,104],"nice":false,"zero":false},"axis":{"values":[20,40,60,80,100],"title":"HDL-C (mg/dl)"}},"y":{"field":"hi","type":"quantitative","scale":{"domain":[0.35,2.35],"nice":false,"zero":false}}}},
{"transform":[{"filter":"datum.p==='Sudden death'"}],"mark":{"type":"line","interpolate":"monotone","color":"#333","strokeWidth":1.4,"strokeDash":[9,5]},"encoding":{"x":{"field":"x","type":"quantitative"},"y":{"field":"lo","type":"quantitative"}}},
{"transform":[{"filter":"datum.p==='Sudden death'"}],"mark":{"type":"line","interpolate":"monotone","color":"#8a8a8a","strokeWidth":1.5},"encoding":{"x":{"field":"x","type":"quantitative"},"y":{"field":"est","type":"quantitative"}}}
]},
{"title":"Renal failure","width":183,"height":91,"layer":[
{"data":{"values":[{"ref":1}]},"mark":{"type":"rule","color":"#222","strokeWidth":1},"encoding":{"y":{"field":"ref","type":"quantitative","scale":{"domain":[0.25,3.28],"nice":false,"zero":false},"axis":{"values":[0.5,1,2,3],"tickCount":20,"title":"Hazard ratio"}}}},
{"transform":[{"filter":"datum.p==='Renal failure'"}],"mark":{"type":"line","interpolate":"monotone","color":"#333","strokeWidth":1.4,"strokeDash":[9,5]},"encoding":{"x":{"field":"x","type":"quantitative","scale":{"domain":[16,104],"nice":false,"zero":false},"axis":{"values":[20,40,60,80,100],"title":"HDL-C (mg/dl)"}},"y":{"field":"hi","type":"quantitative","scale":{"domain":[0.25,3.28],"nice":false,"zero":false}}}},
{"transform":[{"filter":"datum.p==='Renal failure'"}],"mark":{"type":"line","interpolate":"monotone","color":"#333","strokeWidth":1.4,"strokeDash":[9,5]},"encoding":{"x":{"field":"x","type":"quantitative"},"y":{"field":"lo","type":"quantitative"}}},
{"transform":[{"filter":"datum.p==='Renal failure'"}],"mark":{"type":"line","interpolate":"monotone","color":"#8a8a8a","strokeWidth":1.5},"encoding":{"x":{"field":"x","type":"quantitative"},"y":{"field":"est","type":"quantitative"}}}
]},
{"title":"Other than above","width":183,"height":91,"layer":[
{"data":{"values":[{"ref":1}]},"mark":{"type":"rule","color":"#222","strokeWidth":1},"encoding":{"y":{"field":"ref","type":"quantitative","scale":{"domain":[0.33,2.23],"nice":false,"zero":false},"axis":{"values":[0.5,1,1.5,2],"tickCount":20,"title":"Hazard ratio"}}}},
{"transform":[{"filter":"datum.p==='Other than above'"}],"mark":{"type":"line","interpolate":"monotone","color":"#333","strokeWidth":1.4,"strokeDash":[9,5]},"encoding":{"x":{"field":"x","type":"quantitative","scale":{"domain":[16,104],"nice":false,"zero":false},"axis":{"values":[20,40,60,80,100],"title":"HDL-C (mg/dl)"}},"y":{"field":"hi","type":"quantitative","scale":{"domain":[0.33,2.23],"nice":false,"zero":false}}}},
{"transform":[{"filter":"datum.p==='Other than above'"}],"mark":{"type":"line","interpolate":"monotone","color":"#333","strokeWidth":1.4,"strokeDash":[9,5]},"encoding":{"x":{"field":"x","type":"quantitative"},"y":{"field":"lo","type":"quantitative"}}},
{"transform":[{"filter":"datum.p==='Other than above'"}],"mark":{"type":"line","interpolate":"monotone","color":"#8a8a8a","strokeWidth":1.5},"encoding":{"x":{"field":"x","type":"quantitative"},"y":{"field":"est","type":"quantitative"}}}
]}
]
}
